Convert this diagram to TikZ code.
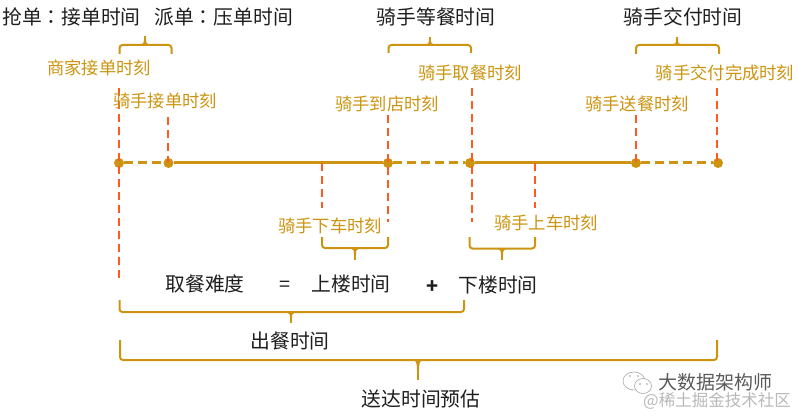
\documentclass[tikz,border=0pt]{standalone}
\usepackage{fontspec}
\setmainfont{Noto Sans CJK SC}
\newfontfamily\tcfont{Noto Sans CJK TC}
\usetikzlibrary{calc}
\definecolor{gold}{HTML}{CC9410}
\definecolor{redo}{HTML}{FF5A1F}
\definecolor{ink}{HTML}{1E1E1E}
\tikzset{
 x=1pt,y=-1pt,
 blk/.style={inner sep=0pt,text=ink,font=\fontsize{19.8}{20}\selectfont},
 org/.style={inner sep=0pt,text=gold,font=\fontsize{17.3}{18}\selectfont},
 tline/.style={gold,line width=3pt},
 tdash/.style={gold,line width=3pt,dash pattern=on 9pt off 5pt},
 rdash/.style={redo,line width=1.8pt,dash pattern=on 8pt off 5pt},
 brc/.style={gold,line width=2pt,rounded corners=3pt},
 brt/.style={gold,line width=2pt},
 dot/.style={circle,fill=gold,inner sep=0pt,minimum size=10pt},
 pt/.style={inner sep=0pt,minimum size=0pt}
}
\newcommand{\bracepath}[6]{% x1 x2 yend ybar xtip ytip
 \draw[brc] (#1,#3) -- (#1,#4) -- (#2,#4) -- (#2,#3);
 \draw[brt] ({#5-3},#4) .. controls ({#5-1},#4) and (#5,{#4+(#6-#4)*.2}) .. (#5,{#4+(#6-#4)*.5})
   .. controls (#5,{#4+(#6-#4)*.2}) and ({#5+1},#4) .. ({#5+3},#4);
 \draw[brt] (#5,{#4+(#6-#4)*.4}) -- (#5,#6);
}
\begin{document}
\begin{tikzpicture}
\useasboundingbox (0,0) rectangle (798,417);
% timeline points
\node[dot] (a) at (119,163) {};
\node[dot] (b) at (168.5,163) {};
\node[pt] (c) at (322,163) {};
\node[dot] (d) at (388,163) {};
\node[dot] (e) at (470,163) {};
\node[pt] (f) at (535,163) {};
\node[dot] (g) at (636,163) {};
\node[dot] (h) at (718,163) {};
\coordinate (a1) at (119,88); \coordinate (a2) at (119,282);
\coordinate (b1) at (168,117); \coordinate (b0) at (168,163);
\coordinate (c2) at (322,208);
\coordinate (d1) at (388,115); \coordinate (d2) at (388,222);
\coordinate (e1) at (472,88); \coordinate (e2) at (472,222);
\coordinate (f2) at (535,208);
\coordinate (g1) at (636,115); \coordinate (g0) at (636,163);
\coordinate (h1) at (717,88); \coordinate (h0) at (717,163);
% connectors
\draw[tdash] (a) -- (b);
\draw[tline] (b) -- (d);
\draw[tdash] (d) -- (e);
\draw[tline] (e) -- (g);
\draw[tdash] (g) -- (h);
\draw[rdash] (a1) -- (a2);
\draw[rdash] (b1) -- (b0);
\draw[rdash] (c) -- (c2);
\draw[rdash] (d1) -- (d2);
\draw[rdash] (e1) -- (e2);
\draw[rdash] (f) -- (f2);
\draw[rdash] (g1) -- (g0);
\draw[rdash] (h1) -- (h0);
% braces
\bracepath{119.5}{171.5}{54}{45}{145}{36}
\bracepath{388.5}{471}{53}{45}{430}{37}
\bracepath{636}{719}{54}{45}{677}{37}
\bracepath{322}{388}{237}{248}{355}{260}
\bracepath{469.5}{535}{237}{248.5}{502}{260}
\bracepath{119.5}{464}{300}{312}{291}{323}
\bracepath{120}{717}{340}{360}{418}{380}
% black labels
\node[blk,anchor=west] (t1) at (2,17) {抢单{\tcfont ：}接单时间};
\node[blk,anchor=west] (t2) at (154,17) {派单{\tcfont ：}压单时间};
\node[blk] (t3) at (436,17) {骑手等餐时间};
\node[blk] (t4) at (683,17) {骑手交付时间};
\node[blk] (l1) at (205,284) {取餐难度};
\node[blk] (l2) at (285,286) {=};
\node[blk,font=\fontsize{19.8}{20}\selectfont\bfseries] (l4) at (433,287) {+};
\node[blk] (l3) at (351,284) {上楼时间};
\node[blk] (l5) at (498,285) {下楼时间};
\node[blk] (l6) at (290,341) {出餐时间};
\node[blk] (l7) at (421,399) {送达时间预估};
% orange labels
\node[org] (o1) at (99,68) {商家接单时刻};
\node[org] (o2) at (165,101) {骑手接单时刻};
\node[org] (o3) at (387,104) {骑手到店时刻};
\node[org] (o4) at (470,73) {骑手取餐时刻};
\node[org] (o5) at (637,104) {骑手送餐时刻};
\node[org] (o6) at (725,73) {骑手交付完成时刻};
\node[org] (o7) at (330,226) {骑手下车时刻};
\node[org] (o8) at (546,223) {骑手上车时刻};
% watermark
\node[inner sep=0pt,text=black!65,font=\fontsize{19}{20}\selectfont] (w1) at (715,382) {大数据架构师};
\node[inner sep=0pt,text=black!28,font=\fontsize{16.5}{18}\selectfont] (w2) at (717,401) {@稀土掘金技术社区};
\draw[black!35,line width=.6pt] (634,381) ellipse (11 and 9);
\draw[black!35,line width=.6pt,fill=white] (643,386) ellipse (8.5 and 7.5);
\fill[black!40] (630,376) circle (.9) (638,376) circle (.9) (640,384) circle (.8) (647,384) circle (.8);
\end{tikzpicture}
\end{document}
